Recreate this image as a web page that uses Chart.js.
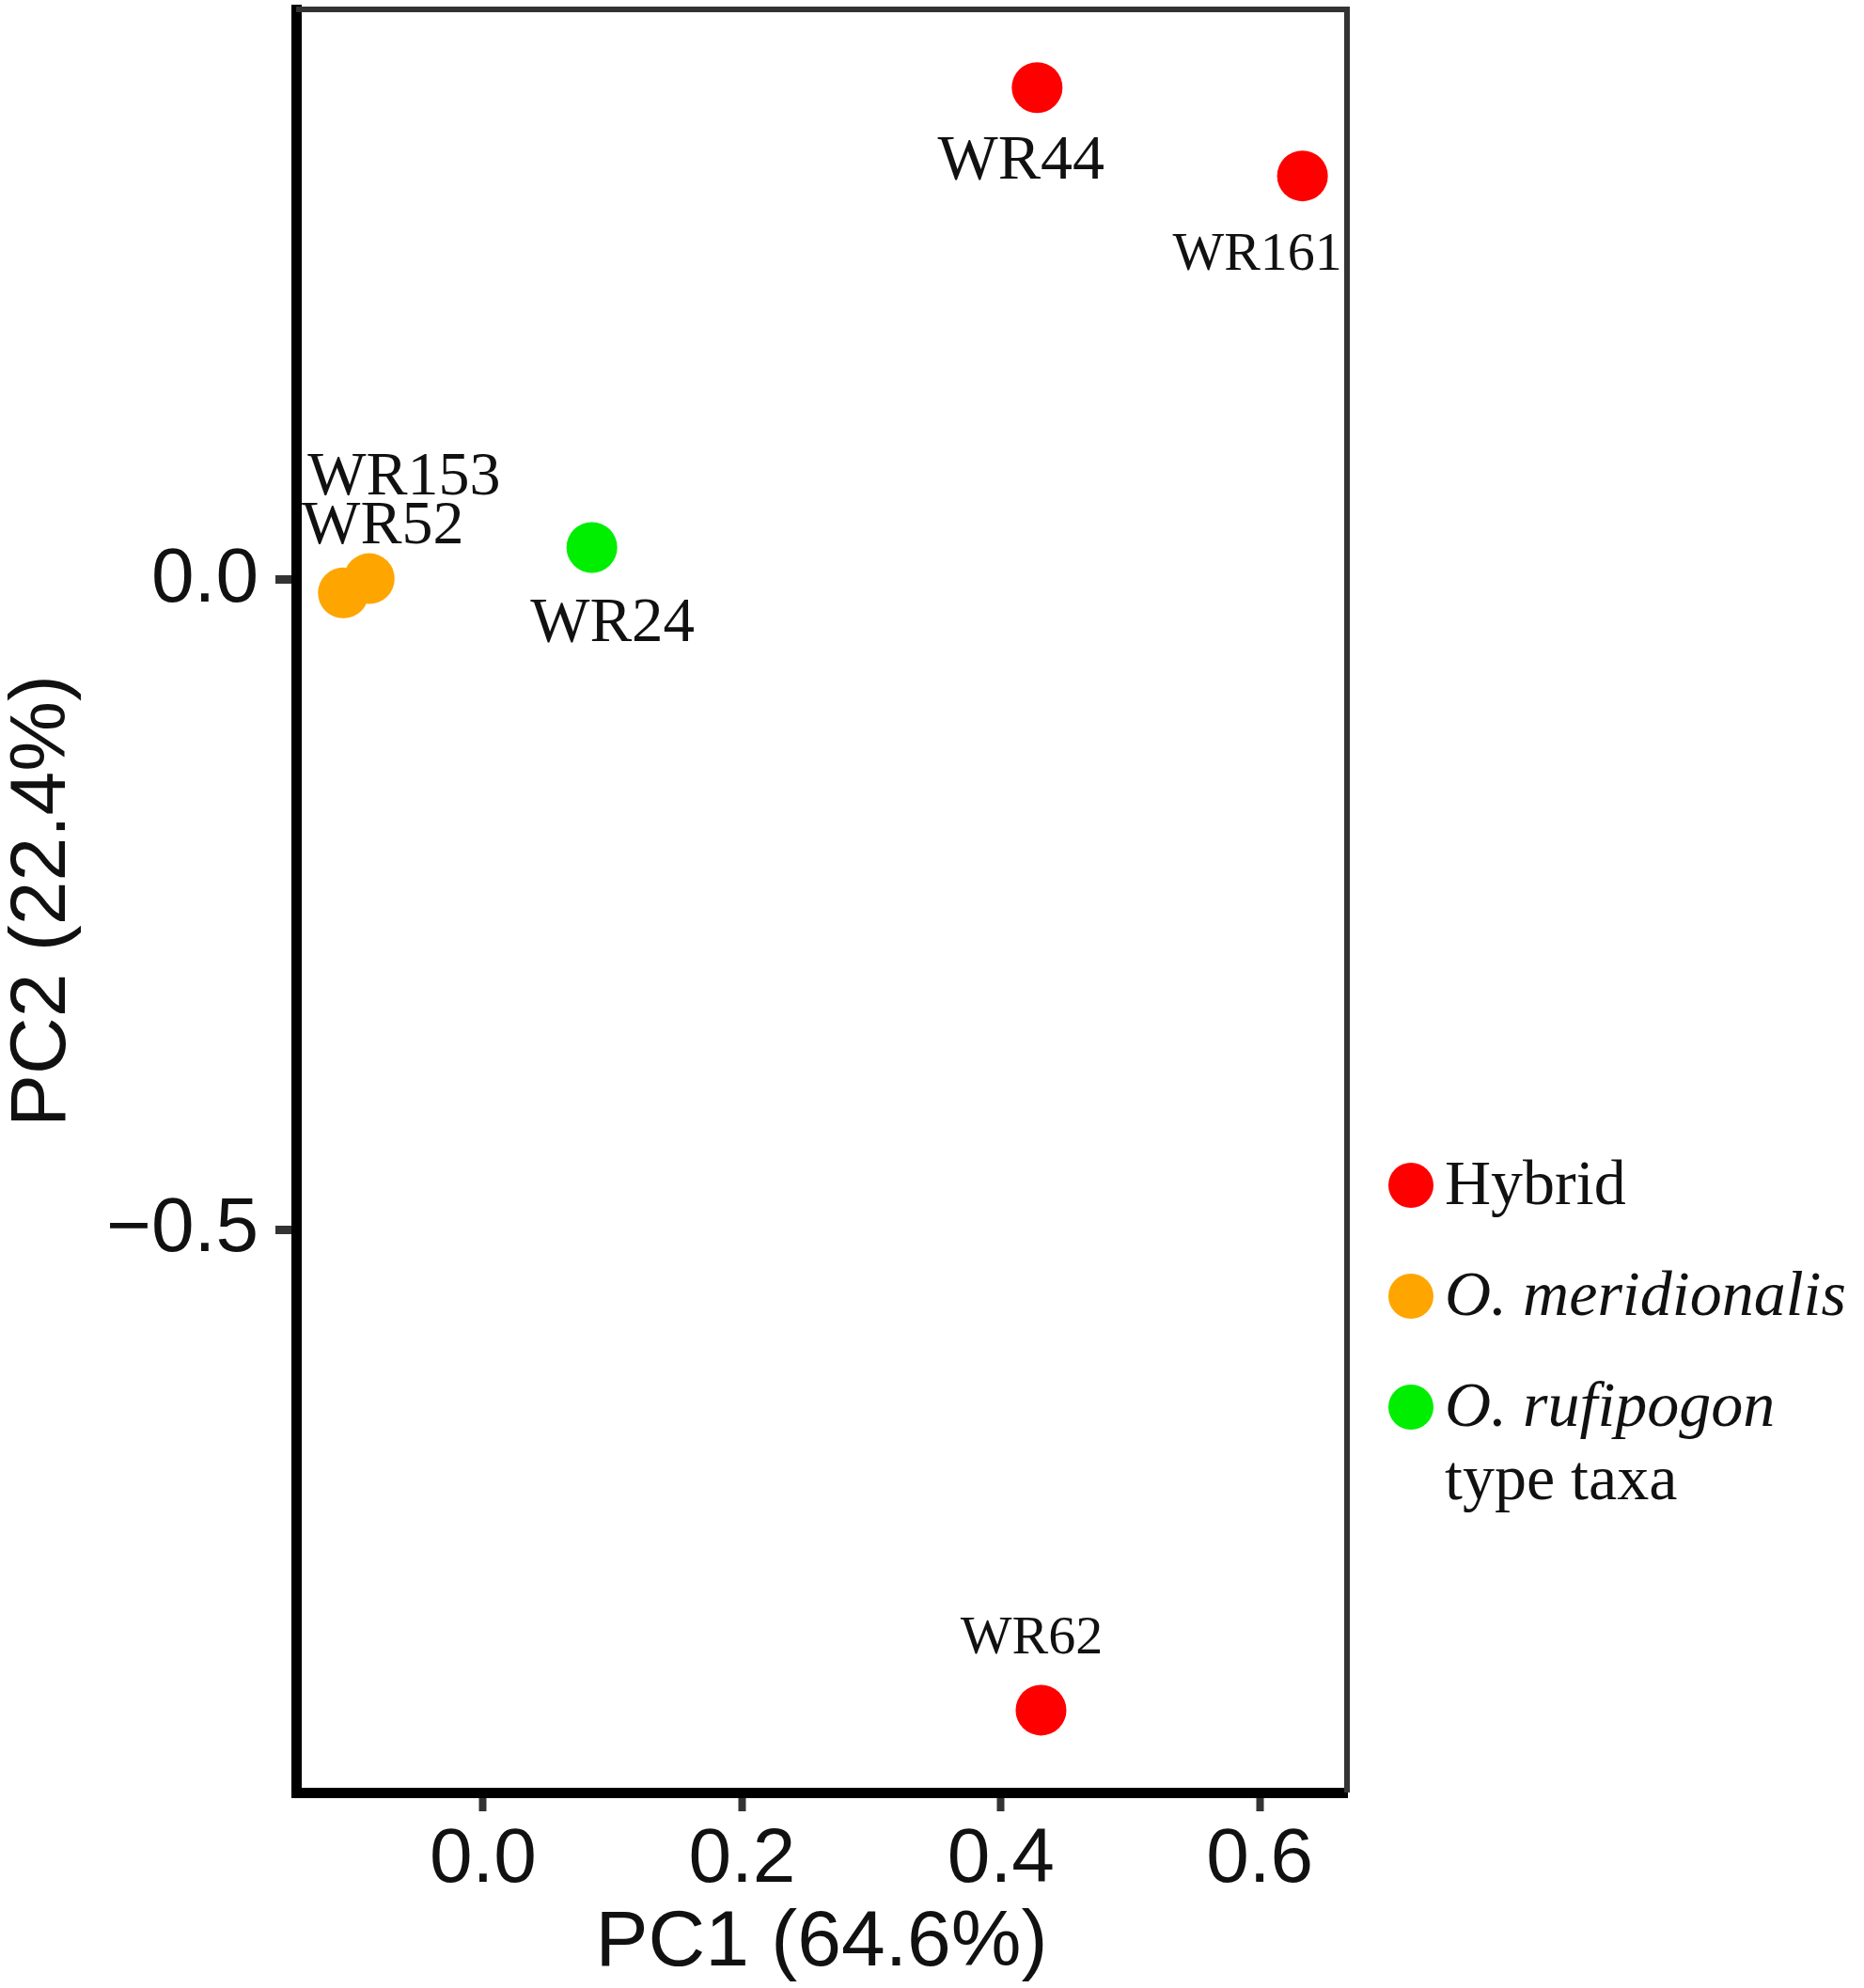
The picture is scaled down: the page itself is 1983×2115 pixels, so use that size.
<!DOCTYPE html>
<html>
<head>
<meta charset="utf-8">
<title>PCA</title>
<script src="https://cdn.jsdelivr.net/npm/chart.js@4.4.1/dist/chart.umd.min.js"></script>
<style>
  html, body { margin: 0; padding: 0; background: #fff; }
  #wrap { width: 1983px; height: 2115px; }
</style>
</head>
<body>
<div id="wrap"><canvas id="pcaChart" width="1983" height="2115"></canvas></div>
<script>
// sample scores
var sampleNames = ['WR44', 'WR161', 'WR62', 'WR153', 'WR52', 'WR24'];
var sampleGroup = ['Hybrid', 'Hybrid', 'Hybrid', 'O. meridionalis', 'O. meridionalis', 'O. rufipogon type taxa'];
var pc1 = [0.428, 0.633, 0.431, -0.088, -0.108, 0.084];
var pc2 = [0.379, 0.311, -0.870, 0.001, -0.010, 0.025];

var groups = ['Hybrid', 'O. meridionalis', 'O. rufipogon type taxa'];
var groupColors = ['#ff0000', '#ffa500', '#00ee00'];

// axes
var xRange = [-0.1445, 0.6674];
var yRange = [-0.9334, 0.4392];
var xTicks = [0.0, 0.2, 0.4, 0.6];
var yTicks = [-0.5, 0.0];
var xTitle = 'PC1 (64.6%)';
var yTitle = 'PC2 (22.4%)';

// where each sample label sits relative to its point (ggrepel-ish)
var labelPos = {
  WR44:  { dx: -17, dy: 97,  size: 68 },
  WR161: { dx: -48, dy: 100, size: 58 },
  WR62:  { dx: -10, dy: -60, size: 58 },
  WR153: { dx: 37,  dy: -90, size: 66 },
  WR52:  { dx: 42,  dy: -53, size: 66 },
  WR24:  { dx: 22,  dy: 100, size: 67 }
};

// legend text, split in lines of [text, fontStyle]
var legendLines = [
  [['Hybrid', 'normal']],
  [['O. meridionalis', 'italic']],
  [['O. rufipogon', 'italic'], ['type taxa', 'normal']]
];

var datasets = groups.map(function(g, gi) {
  var pts = [];
  for (var i = 0; i < sampleNames.length; i++) {
    if (sampleGroup[i] === g) pts.push({ x: pc1[i], y: pc2[i], name: sampleNames[i] });
  }
  return {
    label: g,
    data: pts,
    backgroundColor: groupColors[gi],
    borderWidth: 0,
    pointRadius: 27,
    pointHoverRadius: 27
  };
});

function fmtTick(v) {
  var s = Number(v).toFixed(1);
  return s.charAt(0) === '-' ? '\u2212' + s.slice(1) : s;
}

// top + right edges of the panel
var panelBox = {
  id: 'panelBox',
  beforeDatasetsDraw: function(chart) {
    var a = chart.chartArea, ctx = chart.ctx;
    ctx.save();
    ctx.strokeStyle = '#333';
    ctx.lineWidth = 6;
    ctx.beginPath();
    ctx.moveTo(a.left, a.top);
    ctx.lineTo(a.right, a.top);
    ctx.lineTo(a.right, a.bottom);
    ctx.stroke();
    ctx.restore();
  }
};

// sample name labels
var pointLabels = {
  id: 'pointLabels',
  afterDatasetsDraw: function(chart) {
    var ctx = chart.ctx;
    ctx.save();
    ctx.fillStyle = '#111';
    ctx.textAlign = 'center';
    ctx.textBaseline = 'alphabetic';
    chart.data.datasets.forEach(function(ds, di) {
      var meta = chart.getDatasetMeta(di);
      meta.data.forEach(function(el, i) {
        var name = ds.data[i].name;
        var p = labelPos[name];
        ctx.font = p.size + 'px "Liberation Serif"';
        ctx.fillText(name, el.x + p.dx, el.y + p.dy);
      });
    });
    ctx.restore();
  }
};

// legend on the right
var sideLegend = {
  id: 'sideLegend',
  afterDraw: function(chart) {
    var ctx = chart.ctx, a = chart.chartArea;
    var dotX = a.right + 68, textX = a.right + 104;
    var y0 = 1261, step = 118;
    ctx.save();
    groups.forEach(function(g, gi) {
      var cy = y0 + gi * step;
      ctx.beginPath();
      ctx.arc(dotX, cy, 24, 0, Math.PI * 2);
      ctx.fillStyle = groupColors[gi];
      ctx.fill();
      ctx.fillStyle = '#111';
      ctx.textAlign = 'left';
      ctx.textBaseline = 'alphabetic';
      legendLines[gi].forEach(function(ln, li) {
        ctx.font = ln[1] + ' 68px "Liberation Serif"';
        ctx.fillText(ln[0], textX, cy + 20 + li * 78);
      });
    });
    ctx.restore();
  }
};

new Chart(document.getElementById('pcaChart').getContext('2d'), {
  type: 'scatter',
  data: { datasets: datasets },
  options: {
    responsive: false,
    maintainAspectRatio: false,
    devicePixelRatio: 1,
    animation: false,
    events: [],
    layout: { autoPadding: false, padding: { top: 10, right: 550, left: 0, bottom: 0 } },
    plugins: {
      legend: { display: false },
      tooltip: { enabled: false }
    },
    scales: {
      x: {
        type: 'linear',
        position: 'bottom',
        min: xRange[0],
        max: xRange[1],
        afterBuildTicks: function(s) { s.ticks = xTicks.map(function(v) { return { value: v }; }); },
        afterFit: function(s) { s.height = 208; s.paddingLeft = 0; s.paddingRight = 0; },
        grid: { drawOnChartArea: false, drawTicks: true, tickLength: 20, tickWidth: 8, tickColor: '#333' },
        border: { display: true, color: '#000', width: 11 },
        ticks: {
          color: '#111', padding: 3, maxRotation: 0, autoSkip: false,
          font: { family: 'Liberation Sans', size: 82 },
          callback: fmtTick
        },
        title: {
          display: true, text: xTitle, color: '#111',
          font: { family: 'Liberation Sans', size: 84, lineHeight: 1 },
          padding: { top: 0, bottom: 5 }
        }
      },
      y: {
        type: 'linear',
        position: 'left',
        min: yRange[0],
        max: yRange[1],
        afterBuildTicks: function(s) { s.ticks = yTicks.map(function(v) { return { value: v }; }); },
        afterFit: function(s) { s.width = 315; s.paddingTop = 0; s.paddingBottom = 0; },
        grid: { drawOnChartArea: false, drawTicks: true, tickLength: 22, tickWidth: 9, tickColor: '#333' },
        border: { display: true, color: '#000', width: 11 },
        ticks: {
          color: '#111', padding: 18, autoSkip: false,
          font: { family: 'Liberation Sans', size: 82 },
          callback: fmtTick
        },
        title: {
          display: true, text: yTitle, color: '#111',
          font: { family: 'Liberation Sans', size: 84, lineHeight: 1 },
          padding: { top: 4, bottom: 0 }
        }
      }
    }
  },
  plugins: [panelBox, pointLabels, sideLegend]
});
</script>
</body>
</html>
